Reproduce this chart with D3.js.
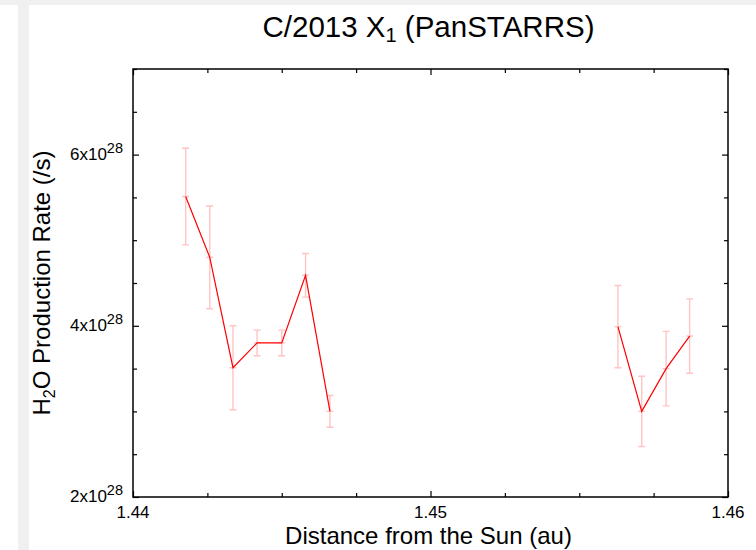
<!DOCTYPE html>
<html>
<head>
<meta charset="utf-8">
<script src="https://cdn.jsdelivr.net/npm/d3@7"></script>
<style>
  html, body { margin: 0; padding: 0; background: #ffffff; }
  svg { display: block; }
  text { font-family: "Liberation Sans", Arial, Helvetica, sans-serif; fill: #000; }
</style>
</head>
<body>
<svg id="chart" width="756" height="550"></svg>
<script>
// Heliocentric distance (au) of each observation
const distance = [1.44177, 1.44258, 1.44336, 1.44417, 1.44500, 1.44580, 1.44662,
                  1.45630, 1.45710, 1.45792, 1.45871];
// Water production rate, in units of 1e28 molecules per second
const rate = [5.51, 4.80, 3.51, 3.80, 3.80, 4.59, 3.00,
              3.99, 3.00, 3.50, 3.88];
// One-sigma uncertainty on the production rate (1e28 /s)
const rateErr = [0.565, 0.60, 0.49, 0.15, 0.15, 0.255, 0.185,
                 0.48, 0.41, 0.435, 0.435];
// Observing pass each point belongs to; the line is broken between passes
const pass = [1, 1, 1, 1, 1, 1, 1, 2, 2, 2, 2];

// Axis tick values
const xTicks = d3.range(0, 9).map(i => +(1.44 + i * 0.0025).toFixed(4));
const xTickLabels = ["1.44", "1.45", "1.46"];
const yTicks = d3.range(0, 11).map(i => 2 + i * 0.5);
const yTickLabels = [2, 4, 6];

const svg = d3.select("#chart");
const W = 756, H = 550;

// Window-style backdrop
svg.append("rect").attr("width", W).attr("height", H).attr("fill", "#f0f0f0");
svg.append("rect").attr("x", 0).attr("y", 5).attr("width", 18).attr("height", H - 5).attr("fill", "#ffffff");
svg.append("rect").attr("x", 29).attr("y", 5).attr("width", W - 29).attr("height", H - 5).attr("fill", "#ffffff");

const plot = { left: 133, right: 728, top: 69, bottom: 497 };

const x = d3.scaleLinear().domain([1.44, 1.46]).range([plot.left, plot.right]);
const y = d3.scaleLinear().domain([2, 7]).range([plot.bottom, plot.top]);

const isMajorX = v => xTickLabels.some(l => Math.abs(+l - v) < 1e-9);
const isMajorY = v => yTickLabels.some(l => Math.abs(l - v) < 1e-9);

// Inward-pointing ticks on all four sides
function styleTicks(g, majorTest, len, sign) {
  g.select(".domain").remove();
  g.selectAll(".tick text").remove();
  g.selectAll(".tick line")
    .attr("stroke", "#000")
    .attr("stroke-width", 1.2)
    .each(function(d) {
      const l = majorTest(d) ? len[0] : len[1];
      const el = d3.select(this);
      if (el.attr("x2") !== null && +el.attr("x2") !== 0) el.attr("x2", sign * l);
      else el.attr("y2", sign * l);
    });
}

svg.append("g").attr("transform", `translate(0,${plot.bottom})`)
  .call(d3.axisBottom(x).tickValues(xTicks).tickSize(-6))
  .call(g => styleTicks(g, isMajorX, [6, 4], -1));
svg.append("g").attr("transform", `translate(0,${plot.top})`)
  .call(d3.axisTop(x).tickValues(xTicks).tickSize(-6))
  .call(g => styleTicks(g, isMajorX, [6, 4], 1));
svg.append("g").attr("transform", `translate(${plot.left},0)`)
  .call(d3.axisLeft(y).tickValues(yTicks).tickSize(-6))
  .call(g => styleTicks(g, isMajorY, [6, 4], 1));
svg.append("g").attr("transform", `translate(${plot.right},0)`)
  .call(d3.axisRight(y).tickValues(yTicks).tickSize(-6))
  .call(g => styleTicks(g, isMajorY, [6, 4], -1));

// Frame
svg.append("rect")
  .attr("x", plot.left).attr("y", plot.top)
  .attr("width", plot.right - plot.left).attr("height", plot.bottom - plot.top)
  .attr("fill", "none").attr("stroke", "#000").attr("stroke-width", 1.5);

// X tick labels
svg.append("g").selectAll("text").data(xTickLabels).join("text")
  .attr("x", d => x(+d)).attr("y", plot.bottom + 21)
  .attr("text-anchor", "middle").attr("font-size", 17)
  .text(d => d);

// Y tick labels in a x10^n form
const yl = svg.append("g").selectAll("text").data(yTickLabels).join("text")
  .attr("x", plot.left - 10).attr("y", d => y(d) + 5)
  .attr("text-anchor", "end").attr("font-size", 17);
yl.append("tspan").text(d => d + "x10");
yl.append("tspan").attr("font-size", 14.5).attr("dy", -7).text("28");

// Points data
const pts = distance.map((d, i) => ({ d, r: rate[i], e: rateErr[i], p: pass[i] }));

// Error bars
const capHalf = 3.5;
const eb = svg.append("g").attr("stroke", "#ffc4c4").attr("stroke-width", 1.4).attr("fill", "none");
eb.selectAll("path").data(pts).join("path")
  .attr("d", p => {
    const cx = x(p.d), y0 = y(p.r - p.e), y1 = y(p.r + p.e), yc = y(p.r);
    return `M${cx},${y0}V${y1}` +
           `M${cx - capHalf},${y0}H${cx + capHalf}` +
           `M${cx - capHalf},${y1}H${cx + capHalf}` +
           `M${cx - capHalf},${yc}H${cx + capHalf}`;
  });

// Production-rate line, one piece per observing pass
const line = d3.line().x(p => x(p.d)).y(p => y(p.r));
const groups = d3.groups(pts, p => p.p);
svg.append("g").selectAll("path").data(groups).join("path")
  .attr("d", g => line(g[1]))
  .attr("fill", "none").attr("stroke", "#ff0000").attr("stroke-width", 1.2);

// Title
const title = svg.append("text")
  .attr("x", (plot.left + plot.right) / 2 - 2).attr("y", 37)
  .attr("text-anchor", "middle").attr("font-size", 29.5);
title.append("tspan").text("C/2013 X");
title.append("tspan").attr("font-size", 20).attr("dy", 5).text("1");
title.append("tspan").attr("dy", -5).text(" (PanSTARRS)");

// X axis title
svg.append("text")
  .attr("x", (plot.left + plot.right) / 2 - 2).attr("y", 544)
  .attr("text-anchor", "middle").attr("font-size", 24)
  .text("Distance from the Sun (au)");

// Y axis title
const yt = svg.append("text")
  .attr("transform", `translate(50,${(plot.top + plot.bottom) / 2}) rotate(-90)`)
  .attr("text-anchor", "middle").attr("font-size", 24);
yt.append("tspan").text("H");
yt.append("tspan").attr("font-size", 16).attr("dy", 5).text("2");
yt.append("tspan").attr("dy", -5).text("O Production Rate (/s)");
</script>
</body>
</html>
